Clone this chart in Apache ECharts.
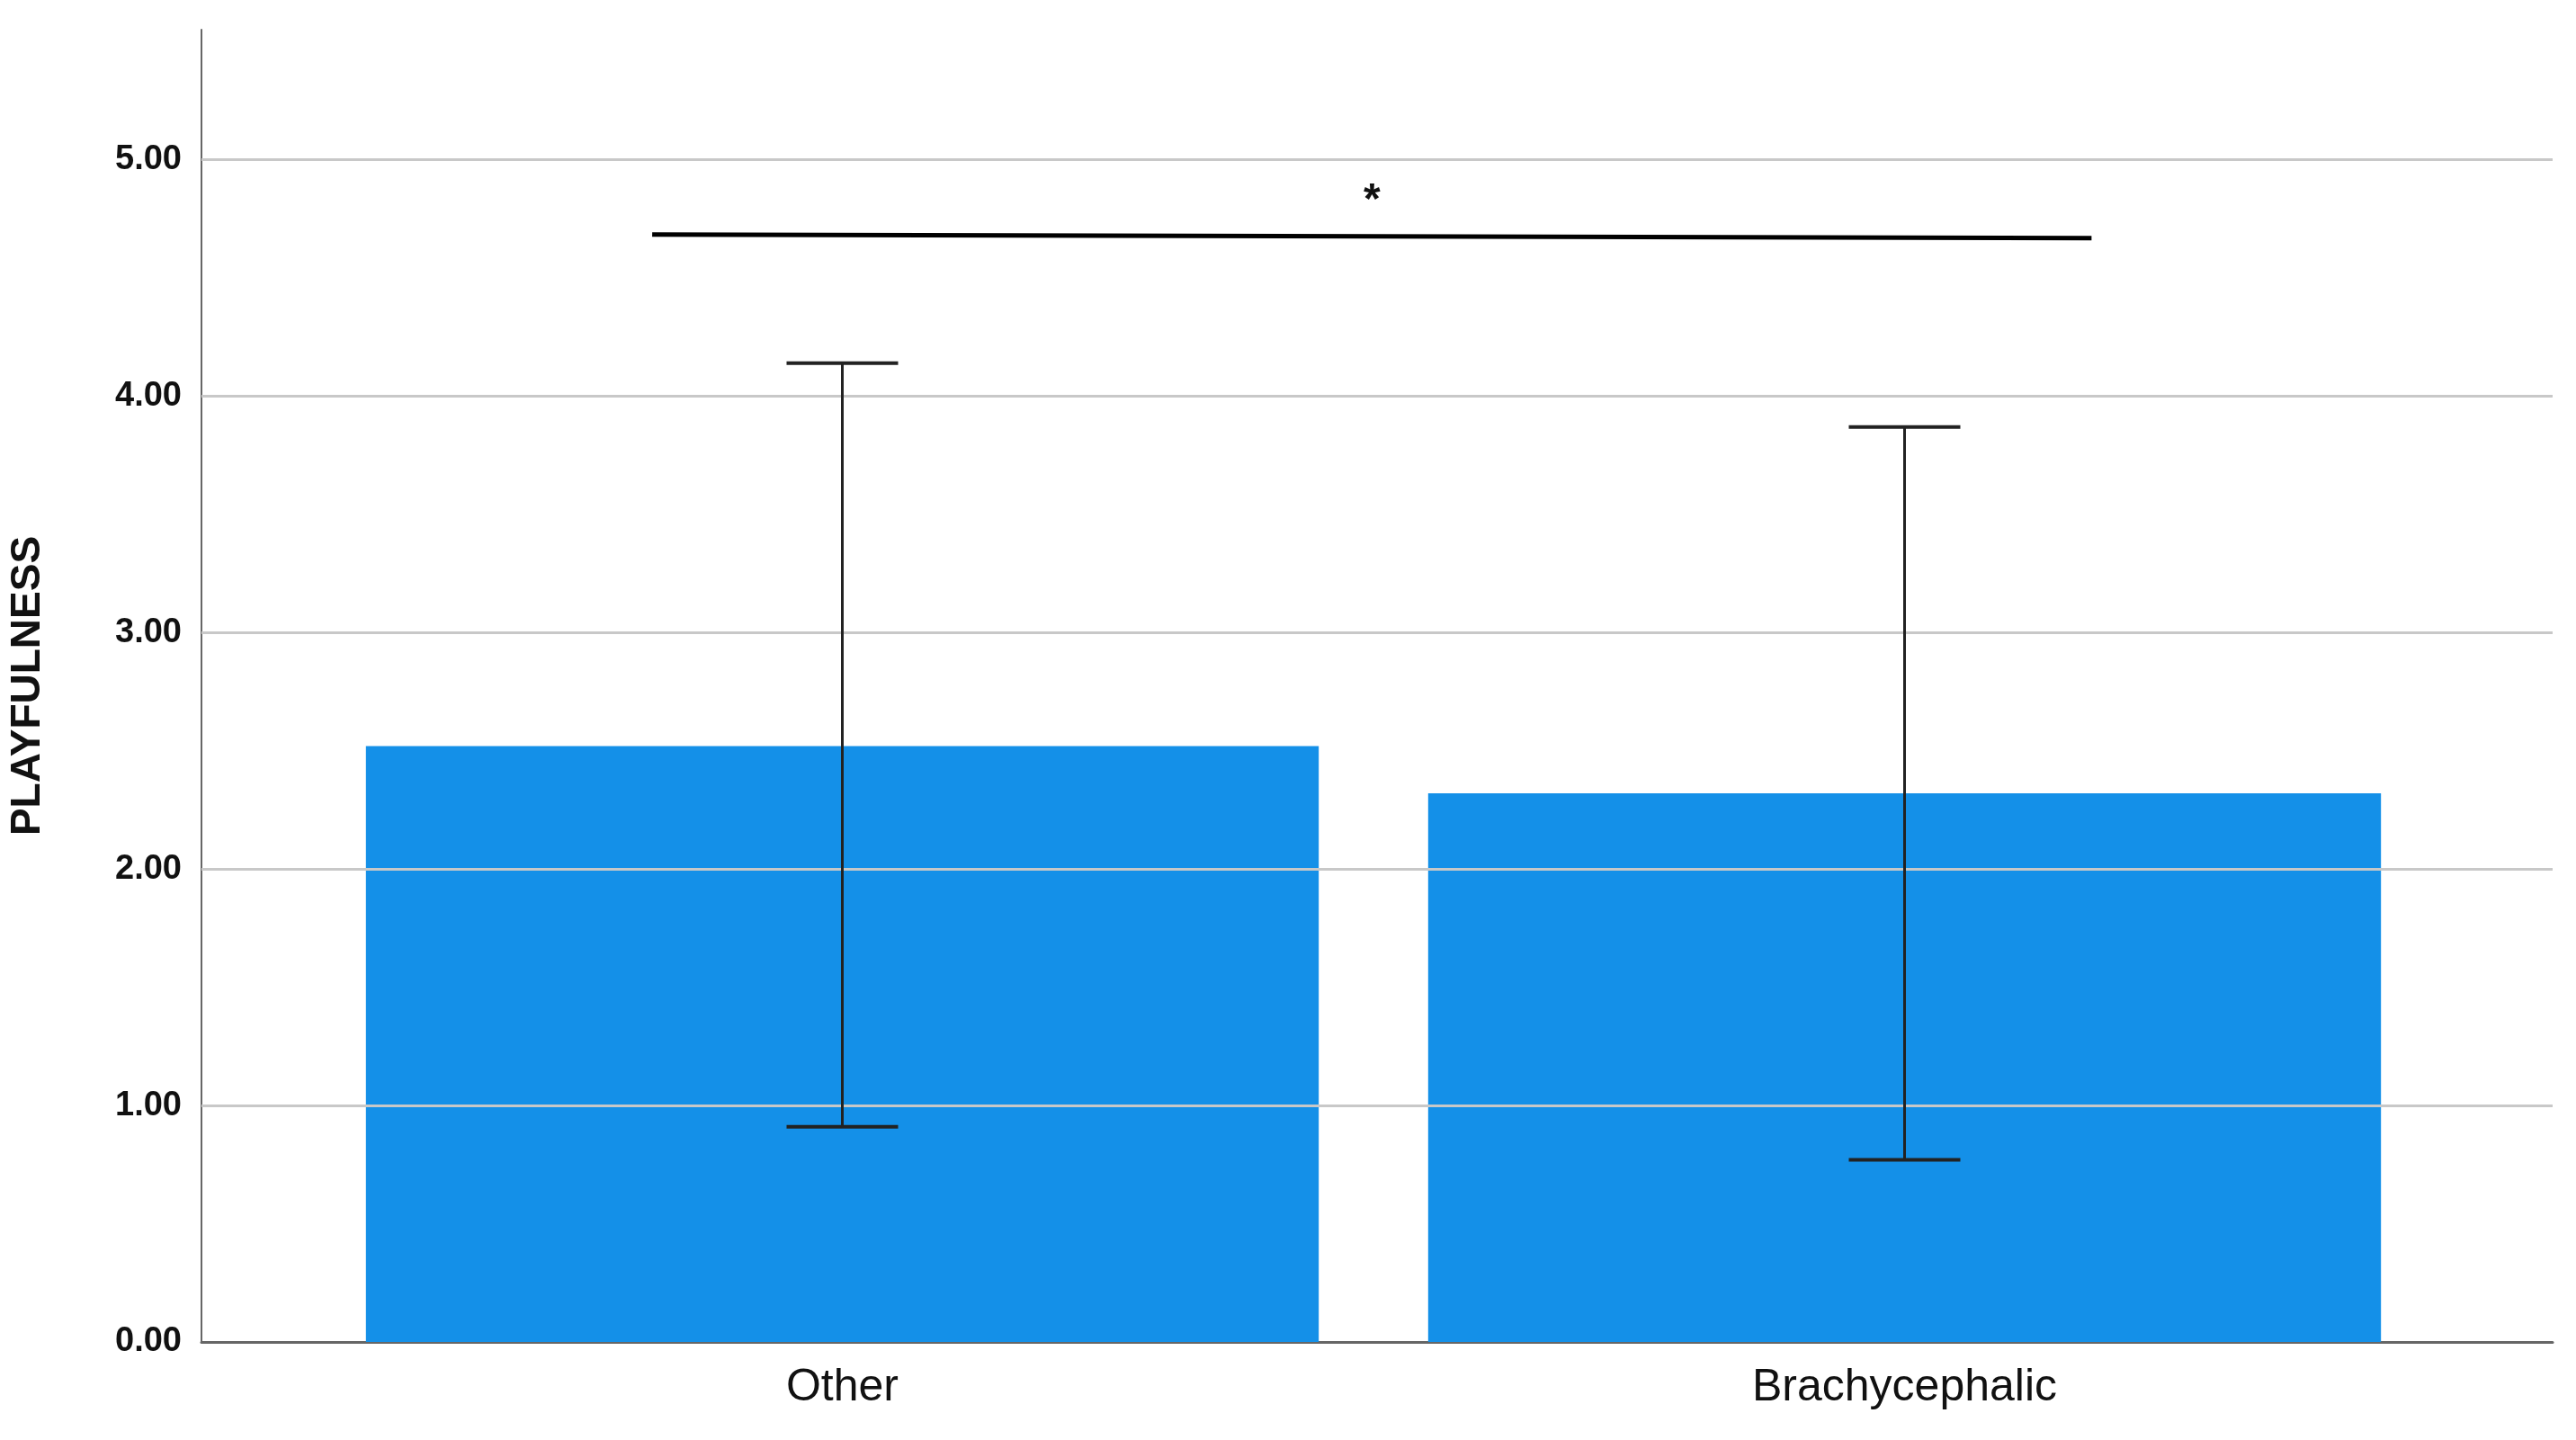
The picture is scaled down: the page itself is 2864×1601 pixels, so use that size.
<!DOCTYPE html>
<html>
<head>
    <meta charset="UTF-8">
    <title>playfulness</title>
    <style>
        html, body { margin: 0; padding: 0; background: #fff; }
    </style>
</head>
<body>
    <div id="show" style="width: 2864px; height: 1601px;"></div>
    <script src="https://cdn.jsdelivr.net/npm/echarts@6/dist/echarts.min.js"></script>
    <script>
        var categories = ['Other', 'Brachycephalic'];
        var means = [2.52, 2.32];
        var errLow = [0.91, 0.77];
        var errHigh = [4.14, 3.87];
        var gridLevels = [1, 2, 3, 4, 5];
        var sigLevel = 4.68;   // bracket height
        var sigLabel = '*';

        var chart = echarts.init(document.getElementById('show'));

        chart.setOption({
            animation: false,
            grid: [
                { left: 346, right: 156, top: 33, bottom: 109 },   // bars
                { left: 217, right: 26, top: 33, bottom: 109 }     // frame, labels, gridlines
            ],
            xAxis: [
                {
                    type: 'category', gridIndex: 0,
                    data: categories,
                    axisTick: { show: false },
                    axisLine: { show: false },
                    axisLabel: { fontFamily: 'Liberation Sans', fontSize: 50, color: '#111', margin: 26 }
                },
                {
                    type: 'value', gridIndex: 1, min: 0, max: 1,
                    axisLine: { show: true, onZero: false, lineStyle: { color: '#666', width: 3 } },
                    axisTick: { show: false }, axisLabel: { show: false }, splitLine: { show: false }
                }
            ],
            yAxis: [
                {
                    type: 'value', gridIndex: 0, min: 0, max: 5.55,
                    show: false, splitLine: { show: false }
                },
                {
                    type: 'value', gridIndex: 1, min: 0, max: 5.55, interval: 1,
                    name: 'PLAYFULNESS',
                    nameLocation: 'middle',
                    nameGap: 170,
                    nameTextStyle: { fontFamily: 'Liberation Sans', fontWeight: 'bold', fontSize: 46, color: '#111' },
                    axisLine: { show: true, lineStyle: { color: '#666', width: 2 } },
                    axisTick: { show: false },
                    splitLine: { show: false },
                    axisLabel: {
                        fontFamily: 'Liberation Sans', fontWeight: 'bold', fontSize: 38, color: '#111', margin: 22,
                        formatter: function (v) { return v > 5 ? '' : v.toFixed(2); }
                    }
                }
            ],
            series: [
                {
                    type: 'line', xAxisIndex: 1, yAxisIndex: 1, data: [],
                    markLine: {
                        symbol: 'none', silent: true, label: { show: false },
                        lineStyle: { color: '#c8c8c8', width: 3, type: 'solid' },
                        data: gridLevels.map(function (v) { return { yAxis: v }; })
                    },
                    z: 1
                },
                {
                    type: 'bar',
                    data: means,
                    barWidth: '89.7%',
                    itemStyle: { color: '#1490E8' },
                    z: 2
                },
                {
                    type: 'custom',
                    data: categories.map(function (c, i) { return [i, errLow[i], errHigh[i]]; }),
                    renderItem: function (params, api) {
                        var lo = api.coord([api.value(0), api.value(1)]);
                        var hi = api.coord([api.value(0), api.value(2)]);
                        var w = 62;
                        var st = { stroke: '#222', lineWidth: 3 };
                        return {
                            type: 'group',
                            children: [
                                { type: 'line', shape: { x1: lo[0], y1: lo[1], x2: hi[0], y2: hi[1] }, style: st },
                                { type: 'line', shape: { x1: lo[0] - w, y1: lo[1], x2: lo[0] + w, y2: lo[1] }, style: { stroke: '#222', lineWidth: 4 } },
                                { type: 'line', shape: { x1: hi[0] - w, y1: hi[1], x2: hi[0] + w, y2: hi[1] }, style: { stroke: '#222', lineWidth: 4 } }
                            ]
                        };
                    },
                    z: 5
                },
                {
                    type: 'custom',
                    data: [[0, sigLevel]],
                    renderItem: function (params, api) {
                        var a = api.coord([0, sigLevel]);
                        var b = api.coord([1, sigLevel]);
                        var band = api.size([1, 0])[0];
                        var x1 = a[0] - band * 0.179;
                        var x2 = b[0] + band * 0.176;
                        return {
                            type: 'group',
                            children: [
                                { type: 'line', shape: { x1: x1, y1: a[1] - 1, x2: x2, y2: a[1] + 3 }, style: { stroke: '#000', lineWidth: 5 } },
                                { type: 'text', style: { x: (x1 + x2) / 2, y: a[1] - 14, text: sigLabel, fontSize: 48, fontWeight: 'bold', fontFamily: 'Liberation Sans', fill: '#111', align: 'center', verticalAlign: 'bottom' } }
                            ]
                        };
                    }
                }
            ]
        });
    </script>
</body>
</html>
